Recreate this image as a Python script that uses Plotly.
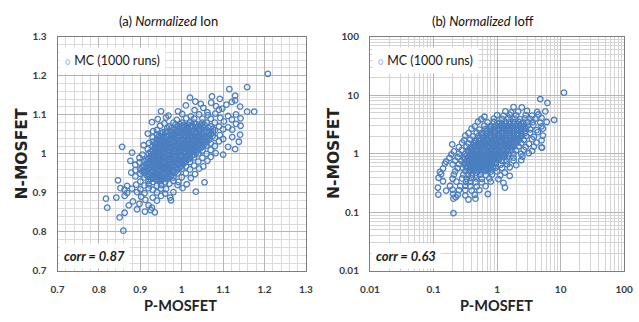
import plotly.graph_objects as go

# ---------------- data ----------------
# Panel (a): normalized Ion, P-MOSFET (x) vs N-MOSFET (y)
ion_p = [
    1.208, 1.115, 1.158, 1.129, 1.073, 1.020, 1.033, 1.092, 1.129,
    1.046, 1.071, 1.108, 1.121,
    1.010, 1.052, 1.083, 1.098, 1.141,
    0.950, 0.991, 1.031, 1.062, 1.090, 1.158, 1.175,
    0.968, 1.001, 1.022, 1.042, 1.063, 1.081, 1.112, 1.131,
    0.942, 0.962, 0.988, 1.011, 1.030, 1.050, 1.070, 1.093, 1.121, 1.142,
    0.928, 0.958, 0.980, 1.000, 1.020, 1.030, 1.050, 1.060, 1.080, 1.102, 1.131,
    0.948, 0.970, 0.990, 1.000, 1.010, 1.020, 1.040, 1.050, 1.070, 1.090, 1.112, 1.142,
    0.931, 0.940, 0.960, 0.980, 0.990, 1.000, 1.010, 1.030, 1.040, 1.060, 1.080, 1.100, 1.122,
    0.918, 0.940, 0.950, 0.970, 0.980, 0.990, 1.000, 1.010, 1.020, 1.030, 1.040, 1.050, 1.070, 1.092, 1.141,
    0.930, 0.940, 0.950, 0.960, 0.970, 0.980, 0.990, 1.000, 1.010, 1.020, 1.030, 1.040, 1.050, 1.060, 1.080, 1.100, 1.122,
    0.921, 0.930, 0.940, 0.950, 0.960, 0.970, 0.980, 0.990, 1.000, 1.010, 1.020, 1.030, 1.040, 1.050, 1.060, 1.070, 1.090, 1.138,
    0.856, 0.908, 0.930, 0.940, 0.950, 0.960, 0.970, 0.980, 0.990, 1.000, 1.010, 1.020, 1.030, 1.040, 1.050, 1.060, 1.080, 1.112,
    0.918, 0.930, 0.940, 0.950, 0.960, 0.970, 0.980, 0.990, 1.000, 1.010, 1.020, 1.030, 1.040, 1.050, 1.070, 1.129,
    0.880, 0.905, 0.920, 0.930, 0.940, 0.950, 0.960, 0.970, 0.980, 0.990, 1.000, 1.010, 1.020, 1.030, 1.040, 1.060, 1.082, 1.100,
    0.898, 0.920, 0.930, 0.940, 0.950, 0.960, 0.970, 0.980, 0.990, 1.000, 1.010, 1.020, 1.030, 1.050, 1.070,
    0.876, 0.898, 0.910, 0.920, 0.930, 0.940, 0.950, 0.960, 0.970, 0.980, 0.990, 1.000, 1.010, 1.020, 1.040, 1.062,
    0.888, 0.910, 0.920, 0.930, 0.940, 0.950, 0.960, 0.970, 0.980, 0.990, 1.000, 1.010, 1.030, 1.052,
    0.888, 0.900, 0.910, 0.920, 0.930, 0.940, 0.950, 0.960, 0.970, 0.980, 0.990, 1.000, 1.020, 1.042,
    0.878, 0.900, 0.910, 0.920, 0.930, 0.940, 0.950, 0.960, 0.970, 0.980, 0.990, 1.010, 1.032,
    0.888, 0.910, 0.920, 0.930, 0.940, 0.950, 0.960, 0.970, 0.980, 1.000, 1.022,
    0.846, 0.900, 0.920, 0.930, 0.940, 0.950, 0.960, 0.980, 0.992, 1.055,
    0.868, 0.890, 0.910, 0.920, 0.940, 0.950, 0.970, 0.990, 1.012,
    0.852, 0.862, 0.880, 0.900, 0.920, 0.930, 0.950, 0.962, 1.002,
    0.868, 0.892, 0.910, 0.940, 0.960, 0.980, 1.034,
    0.842, 0.862, 0.902, 0.930, 0.950, 0.972, 0.817,
    0.882, 0.912, 0.940, 0.974,
    0.872, 0.898, 0.920,
    0.820, 0.892, 0.928,
    0.862, 0.911, 0.925, 0.935, 0.850, 0.859,
    # dense core
    0.985, 0.995, 1.005, 1.015, 1.025, 1.035, 1.045, 1.055,
    0.965, 0.975, 0.985, 0.995, 1.005, 1.015, 1.025, 1.035, 1.045, 1.055, 1.065, 1.075,
    0.955, 0.965, 0.975, 0.985, 0.995, 1.005, 1.015, 1.025, 1.035, 1.045, 1.055, 1.065, 1.075,
    0.945, 0.955, 0.965, 0.975, 0.985, 0.995, 1.005, 1.015, 1.025, 1.035, 1.045, 1.055, 1.065, 1.075,
    0.945, 0.955, 0.965, 0.975, 0.985, 0.995, 1.005, 1.015, 1.025, 1.035, 1.045, 1.055, 1.065,
    0.935, 0.945, 0.955, 0.965, 0.975, 0.985, 0.995, 1.005, 1.015, 1.025, 1.035, 1.045, 1.055,
    0.935, 0.945, 0.955, 0.965, 0.975, 0.985, 0.995, 1.005, 1.015, 1.025, 1.035, 1.045,
    0.925, 0.935, 0.945, 0.955, 0.965, 0.975, 0.985, 0.995, 1.005, 1.015, 1.025, 1.035,
    0.925, 0.935, 0.945, 0.955, 0.965, 0.975, 0.985, 0.995, 1.005, 1.015, 1.025,
    0.915, 0.925, 0.935, 0.945, 0.955, 0.965, 0.975, 0.985, 0.995, 1.005, 1.015,
    0.915, 0.925, 0.935, 0.945, 0.955, 0.965, 0.975, 0.985, 0.995, 1.005,
    0.905, 0.915, 0.925, 0.935, 0.945, 0.955, 0.965, 0.975, 0.985, 0.995,
    0.905, 0.915, 0.925, 0.935, 0.945, 0.955, 0.965, 0.975, 0.985,
    0.915, 0.925, 0.935, 0.945, 0.955, 0.965, 0.975,
    0.925, 0.935, 0.945, 0.955, 0.965,
]
ion_n = [
    1.205, 1.166, 1.171, 1.149, 1.147, 1.144, 1.134, 1.141, 1.137,
    1.128, 1.131, 1.126, 1.133,
    1.124, 1.118, 1.122, 1.116, 1.121,
    1.109, 1.109, 1.112, 1.106, 1.113, 1.108, 1.108,
    1.098, 1.102, 1.096, 1.101, 1.099, 1.103, 1.097, 1.101,
    1.089, 1.093, 1.087, 1.091, 1.090, 1.090, 1.090, 1.092, 1.088, 1.091,
    1.081, 1.078, 1.080, 1.080, 1.080, 1.080, 1.080, 1.080, 1.080, 1.083, 1.077,
    1.072, 1.070, 1.070, 1.070, 1.070, 1.070, 1.070, 1.070, 1.070, 1.070, 1.068, 1.072,
    1.058, 1.061, 1.057, 1.063, 1.059, 1.060, 1.062, 1.058, 1.061, 1.057, 1.060, 1.063, 1.062,
    1.052, 1.050, 1.053, 1.048, 1.051, 1.047, 1.050, 1.053, 1.049, 1.052, 1.048, 1.051, 1.050, 1.048, 1.049,
    1.042, 1.039, 1.043, 1.040, 1.037, 1.042, 1.040, 1.038, 1.043, 1.041, 1.037, 1.040, 1.042, 1.039, 1.041, 1.038, 1.043,
    1.028, 1.031, 1.029, 1.032, 1.030, 1.027, 1.031, 1.029, 1.033, 1.030, 1.028, 1.031, 1.029, 1.032, 1.030, 1.027, 1.032, 1.031,
    1.018, 1.022, 1.020, 1.023, 1.019, 1.021, 1.018, 1.022, 1.020, 1.017, 1.021, 1.019, 1.022, 1.020, 1.018, 1.021, 1.020, 1.018,
    1.012, 1.009, 1.011, 1.008, 1.012, 1.010, 1.007, 1.011, 1.009, 1.012, 1.010, 1.008, 1.011, 1.009, 1.010, 1.012,
    1.003, 0.998, 1.001, 0.999, 1.002, 0.998, 1.000, 1.003, 0.999, 1.001, 0.997, 1.002, 1.000, 0.998, 1.001, 1.000, 1.002, 0.998,
    0.990, 0.988, 0.991, 0.989, 0.992, 0.990, 0.987, 0.991, 0.989, 0.992, 0.990, 0.988, 0.991, 0.990, 0.992,
    0.982, 0.978, 0.981, 0.979, 0.982, 0.980, 0.977, 0.981, 0.979, 0.982, 0.980, 0.978, 0.981, 0.979, 0.980, 0.982,
    0.972, 0.969, 0.971, 0.968, 0.972, 0.970, 0.967, 0.971, 0.969, 0.972, 0.970, 0.968, 0.970, 0.968,
    0.958, 0.961, 0.959, 0.962, 0.958, 0.960, 0.963, 0.959, 0.961, 0.958, 0.960, 0.962, 0.960, 0.962,
    0.952, 0.949, 0.951, 0.948, 0.952, 0.950, 0.947, 0.951, 0.949, 0.952, 0.950, 0.950, 0.948,
    0.942, 0.939, 0.941, 0.938, 0.942, 0.940, 0.937, 0.941, 0.939, 0.940, 0.938,
    0.932, 0.929, 0.931, 0.928, 0.932, 0.930, 0.927, 0.931, 0.928, 0.927,
    0.918, 0.921, 0.919, 0.922, 0.918, 0.920, 0.923, 0.920, 0.922,
    0.912, 0.908, 0.911, 0.909, 0.912, 0.908, 0.911, 0.910, 0.912,
    0.900, 0.902, 0.899, 0.901, 0.898, 0.902, 0.903,
    0.888, 0.892, 0.890, 0.888, 0.892, 0.888, 0.885,
    0.878, 0.882, 0.880, 0.881,
    0.868, 0.872, 0.868,
    0.862, 0.858, 0.862,
    0.849, 0.852, 0.856, 0.850, 0.837, 0.803,
    # dense core
    1.075, 1.076, 1.074, 1.075, 1.073, 1.076, 1.075, 1.074,
    1.065, 1.066, 1.064, 1.065, 1.067, 1.063, 1.065, 1.066, 1.064, 1.065, 1.066, 1.064,
    1.055, 1.056, 1.054, 1.055, 1.057, 1.053, 1.055, 1.056, 1.054, 1.055, 1.056, 1.054, 1.055,
    1.045, 1.046, 1.044, 1.045, 1.047, 1.043, 1.045, 1.046, 1.044, 1.045, 1.046, 1.044, 1.045, 1.046,
    1.035, 1.036, 1.034, 1.035, 1.037, 1.033, 1.035, 1.036, 1.034, 1.035, 1.036, 1.034, 1.035,
    1.025, 1.026, 1.024, 1.025, 1.027, 1.023, 1.025, 1.026, 1.024, 1.025, 1.026, 1.024, 1.025,
    1.015, 1.016, 1.014, 1.015, 1.017, 1.013, 1.015, 1.016, 1.014, 1.015, 1.016, 1.014,
    1.005, 1.006, 1.004, 1.005, 1.007, 1.003, 1.005, 1.006, 1.004, 1.005, 1.006, 1.004,
    0.995, 0.996, 0.994, 0.995, 0.997, 0.993, 0.995, 0.996, 0.994, 0.995, 0.996,
    0.985, 0.986, 0.984, 0.985, 0.987, 0.983, 0.985, 0.986, 0.984, 0.985, 0.986,
    0.975, 0.976, 0.974, 0.975, 0.977, 0.973, 0.975, 0.976, 0.974, 0.975,
    0.965, 0.966, 0.964, 0.965, 0.967, 0.963, 0.965, 0.966, 0.964, 0.965,
    0.955, 0.956, 0.954, 0.955, 0.957, 0.953, 0.955, 0.956, 0.954,
    0.945, 0.946, 0.944, 0.945, 0.947, 0.943, 0.945,
    0.935, 0.936, 0.934, 0.935, 0.937,
]

# Panel (b): normalized Ioff, P-MOSFET (x) vs N-MOSFET (y)
ioff_p = [
    11.3, 4.79, 6.2, 7.9, 5.1, 1.82, 2.45,
    1.35, 1.66, 2.14, 2.95, 4.27, 5.75,
    0.631, 1.0, 1.26, 1.58, 2.0, 2.82, 3.55, 4.47,
    0.562, 0.891, 1.20, 1.51, 1.91, 2.29, 2.75, 3.31, 3.98, 5.01,
    0.501, 0.708, 0.891, 1.12, 1.32, 1.58, 1.86, 2.19, 2.57, 3.02, 3.63, 4.79, 6.03,
    0.447, 0.631, 0.794, 0.955, 1.12, 1.29, 1.48, 1.70, 1.95, 2.24, 2.57, 3.02, 3.72, 5.01,
    0.398, 0.525, 0.661, 0.794, 0.912, 1.05, 1.20, 1.38, 1.58, 1.82, 2.09, 2.40, 2.82, 3.31, 4.17, 5.25,
    0.355, 0.479, 0.575, 0.692, 0.794, 0.912, 1.05, 1.20, 1.38, 1.58, 1.82, 2.09, 2.40, 2.75, 3.31, 4.37,
    0.316, 0.417, 0.501, 0.603, 0.692, 0.794, 0.912, 1.05, 1.20, 1.38, 1.58, 1.82, 2.09, 2.40, 2.88, 3.80, 5.25,
    0.302, 0.380, 0.457, 0.550, 0.631, 0.724, 0.832, 0.955, 1.10, 1.26, 1.45, 1.66, 1.91, 2.19, 2.63, 3.55, 5.01,
    0.197, 0.282, 0.355, 0.427, 0.501, 0.575, 0.661, 0.759, 0.871, 1.0, 1.15, 1.32, 1.51, 1.74, 2.0, 2.40, 3.16, 4.17,
    0.251, 0.331, 0.398, 0.457, 0.525, 0.603, 0.692, 0.794, 0.912, 1.05, 1.20, 1.38, 1.58, 1.82, 2.19, 2.82, 3.80, 5.01,
    0.209, 0.275, 0.347, 0.417, 0.479, 0.550, 0.631, 0.724, 0.832, 0.955, 1.10, 1.26, 1.45, 1.66, 2.0, 2.63, 3.55,
    0.191, 0.251, 0.316, 0.380, 0.437, 0.501, 0.575, 0.661, 0.759, 0.871, 1.0, 1.15, 1.32, 1.51, 1.82, 2.40, 3.16,
    0.178, 0.240, 0.302, 0.355, 0.407, 0.468, 0.537, 0.617, 0.708, 0.813, 0.933, 1.07, 1.23, 1.45, 1.82, 2.51,
    0.158, 0.219, 0.275, 0.331, 0.380, 0.437, 0.501, 0.575, 0.661, 0.759, 0.871, 1.0, 1.18, 1.41, 1.82, 2.40,
    0.151, 0.200, 0.251, 0.302, 0.355, 0.407, 0.468, 0.537, 0.617, 0.708, 0.813, 0.955, 1.15, 1.45, 2.0,
    0.141, 0.240, 0.288, 0.339, 0.389, 0.447, 0.513, 0.589, 0.676, 0.794, 0.955, 1.20, 1.58,
    0.126, 0.219, 0.316, 0.372, 0.427, 0.490, 0.562, 0.661, 0.794, 1.0, 1.32,
    0.132, 0.209, 0.295, 0.347, 0.398, 0.468, 0.550, 0.661, 0.832, 1.12, 1.58,
    0.120, 0.200, 0.282, 0.331, 0.389, 0.468, 0.575, 0.759, 1.05,
    0.141, 0.229, 0.324, 0.380, 0.457, 0.575, 0.794, 1.26,
    0.117, 0.182, 0.263, 0.316, 0.380, 0.479, 0.661, 1.33,
    0.158, 0.200, 0.251, 0.316, 0.398, 0.525,
    0.119, 0.204, 0.240, 0.316, 0.447, 0.716,
    0.206, 0.224, 0.355, 0.458, 0.206,
    # dense core
    1.05, 1.20, 1.38, 1.58, 1.82, 2.09, 2.40,
    0.794, 0.912, 1.05, 1.20, 1.38, 1.58, 1.82, 2.09, 2.40, 2.75,
    0.692, 0.794, 0.912, 1.05, 1.20, 1.38, 1.58, 1.82, 2.09, 2.40, 2.75,
    0.603, 0.692, 0.794, 0.912, 1.05, 1.20, 1.38, 1.58, 1.82, 2.09, 2.40,
    0.525, 0.603, 0.692, 0.794, 0.912, 1.05, 1.20, 1.38, 1.58, 1.82, 2.09, 2.29,
    0.457, 0.525, 0.603, 0.692, 0.794, 0.912, 1.05, 1.20, 1.38, 1.58, 1.82, 2.0,
    0.427, 0.490, 0.562, 0.646, 0.741, 0.851, 0.977, 1.12, 1.29, 1.48, 1.70,
    0.372, 0.427, 0.490, 0.562, 0.646, 0.741, 0.851, 0.977, 1.12, 1.29, 1.48, 1.70,
    0.355, 0.407, 0.468, 0.537, 0.617, 0.708, 0.813, 0.933, 1.07, 1.23, 1.41,
    0.331, 0.380, 0.437, 0.501, 0.575, 0.661, 0.759, 0.871, 1.0, 1.15, 1.32,
    0.309, 0.355, 0.407, 0.468, 0.537, 0.617, 0.708, 0.813, 0.933, 1.07,
    0.309, 0.355, 0.407, 0.468, 0.537, 0.617, 0.708, 0.813, 0.933,
    0.331, 0.380, 0.437, 0.501, 0.575, 0.661, 0.759, 0.871,
    0.363, 0.417, 0.479, 0.550, 0.631, 0.724,
]
ioff_n = [
    11.1, 8.6, 7.4, 3.8, 1.28, 6.3, 6.2,
    5.3, 5.1, 5.25, 5.4, 5.2, 5.3,
    4.3, 4.6, 4.5, 4.65, 4.55, 4.6, 4.5, 4.7,
    3.9, 4.0, 3.95, 4.05, 3.98, 3.92, 4.02, 3.96, 4.0, 4.1,
    3.55, 3.45, 3.5, 3.42, 3.48, 3.52, 3.46, 3.5, 3.44, 3.49, 3.47, 3.4, 3.5,
    2.95, 3.03, 2.99, 3.05, 3.0, 3.04, 2.98, 3.02, 3.06, 3.0, 2.97, 3.03, 3.1, 2.95,
    2.7, 2.6, 2.65, 2.62, 2.66, 2.61, 2.64, 2.67, 2.62, 2.65, 2.6, 2.64, 2.66, 2.62, 2.55, 2.7,
    2.25, 2.3, 2.27, 2.31, 2.28, 2.3, 2.26, 2.29, 2.32, 2.28, 2.3, 2.27, 2.31, 2.29, 2.28, 2.35,
    2.05, 1.98, 2.01, 1.97, 2.0, 2.02, 1.98, 2.01, 1.99, 2.03, 1.98, 2.0, 2.02, 1.99, 2.01, 1.95, 2.05,
    1.7, 1.75, 1.72, 1.76, 1.73, 1.74, 1.71, 1.75, 1.73, 1.76, 1.72, 1.74, 1.75, 1.72, 1.74, 1.78, 1.7,
    1.45, 1.55, 1.5, 1.53, 1.49, 1.52, 1.5, 1.54, 1.51, 1.49, 1.52, 1.5, 1.53, 1.49, 1.51, 1.52, 1.48, 1.55,
    1.3, 1.33, 1.31, 1.34, 1.32, 1.3, 1.33, 1.31, 1.34, 1.32, 1.3, 1.33, 1.31, 1.32, 1.34, 1.3, 1.33, 1.28,
    1.1, 1.16, 1.14, 1.17, 1.15, 1.13, 1.16, 1.14, 1.15, 1.17, 1.13, 1.15, 1.16, 1.14, 1.15, 1.17, 1.12,
    0.98, 1.01, 0.99, 1.02, 1.0, 0.98, 1.01, 0.99, 1.02, 1.0, 0.99, 1.01, 1.0, 0.98, 1.01, 1.0, 1.03,
    0.85, 0.88, 0.86, 0.875, 0.87, 0.865, 0.88, 0.87, 0.86, 0.875, 0.87, 0.865, 0.88, 0.87, 0.86, 0.9,
    0.74, 0.765, 0.75, 0.76, 0.77, 0.755, 0.76, 0.75, 0.765, 0.76, 0.755, 0.77, 0.76, 0.75, 0.765, 0.78,
    0.68, 0.66, 0.665, 0.655, 0.67, 0.66, 0.665, 0.655, 0.66, 0.67, 0.66, 0.665, 0.655, 0.66, 0.64,
    0.56, 0.57, 0.575, 0.58, 0.57, 0.575, 0.565, 0.58, 0.575, 0.57, 0.58, 0.575, 0.59,
    0.49, 0.5, 0.505, 0.5, 0.51, 0.495, 0.5, 0.505, 0.495, 0.5, 0.48,
    0.45, 0.44, 0.44, 0.435, 0.44, 0.43, 0.44, 0.435, 0.44, 0.43, 0.42,
    0.39, 0.375, 0.38, 0.375, 0.385, 0.38, 0.375, 0.38, 0.37,
    0.34, 0.335, 0.33, 0.335, 0.33, 0.325, 0.335, 0.32,
    0.265, 0.285, 0.28, 0.285, 0.28, 0.275, 0.28, 0.265,
    0.235, 0.245, 0.24, 0.24, 0.235, 0.24,
    0.201, 0.205, 0.2, 0.195, 0.2, 0.206,
    0.171, 0.182, 0.166, 0.171, 0.097,
    # dense core
    3.24, 3.2, 3.27, 3.22, 3.25, 3.21, 3.26,
    2.82, 2.85, 2.8, 2.84, 2.81, 2.83, 2.86, 2.8, 2.83, 2.82,
    2.45, 2.47, 2.43, 2.46, 2.44, 2.48, 2.45, 2.43, 2.47, 2.45, 2.44,
    2.14, 2.16, 2.12, 2.15, 2.13, 2.17, 2.14, 2.12, 2.16, 2.14, 2.13,
    1.86, 1.88, 1.85, 1.87, 1.84, 1.88, 1.86, 1.85, 1.87, 1.86, 1.84, 1.88,
    1.62, 1.64, 1.61, 1.63, 1.6, 1.64, 1.62, 1.61, 1.63, 1.62, 1.6, 1.64,
    1.41, 1.43, 1.4, 1.42, 1.39, 1.43, 1.41, 1.4, 1.42, 1.41, 1.4,
    1.23, 1.25, 1.22, 1.24, 1.21, 1.25, 1.23, 1.22, 1.24, 1.23, 1.22, 1.25,
    1.07, 1.08, 1.06, 1.075, 1.065, 1.08, 1.07, 1.06, 1.075, 1.07, 1.065,
    0.933, 0.945, 0.925, 0.94, 0.93, 0.945, 0.935, 0.925, 0.94, 0.933, 0.93,
    0.813, 0.82, 0.805, 0.815, 0.81, 0.82, 0.813, 0.805, 0.815, 0.81,
    0.708, 0.715, 0.7, 0.71, 0.705, 0.715, 0.708, 0.7, 0.71,
    0.617, 0.625, 0.61, 0.62, 0.615, 0.625, 0.617, 0.61,
    0.537, 0.545, 0.53, 0.54, 0.535, 0.545,
]

ion_ticks = [0.7, 0.8, 0.9, 1.0, 1.1, 1.2, 1.3]
ion_ticklabels = ["0.7", "0.8", "0.9", "1", "1.1", "1.2", "1.3"]
ioff_ticks = [0.01, 0.1, 1, 10, 100]
ioff_ticklabels = ["0.01", "0.1", "1", "10", "100"]
panel_titles = ["(a) <i>Normalized</i> Ion", "(b) <i>Normalized</i> Ioff"]
corr_labels = ["corr = 0.87", "corr = 0.63"]
legend_label = "MC (1000 runs)"
x_title = "P-MOSFET"
y_title = "N-MOSFET"

# ---------------- figure ----------------
W, H = 639, 322
BLUE = "#4a7ebf"

def px(x):
    return x / W

def py(y):
    return 1 - y / H

fig = go.Figure()
marker = dict(symbol="circle-open", size=5.5, color=BLUE, line=dict(width=1.3, color=BLUE))
fig.add_trace(go.Scatter(x=ion_p, y=ion_n, mode="markers", marker=marker,
                         xaxis="x", yaxis="y", showlegend=False))
fig.add_trace(go.Scatter(x=ioff_p, y=ioff_n, mode="markers", marker=marker,
                         xaxis="x2", yaxis="y2", showlegend=False))

tickfont = dict(family="Lato", size=10, color="#3a3a3a", weight="bold")
common = dict(showline=True, mirror=True, linecolor="#7f7f7f", linewidth=1,
              zeroline=False, ticks="", tickfont=tickfont, showgrid=True)

A_L, A_R, TOP, BOT = 49, 305, 31, 275
B_L, B_R = 371, 633

fig.update_layout(
    width=W, height=H, margin=dict(l=0, r=0, t=0, b=0),
    paper_bgcolor="white", plot_bgcolor="white",
    xaxis=dict(domain=[px(A_L), px(A_R)], range=[0.7, 1.3], tickvals=ion_ticks,
               ticktext=ion_ticklabels, gridcolor="#b4b4b4", gridwidth=1,
               ticklabelstandoff=9,
               minor=dict(dtick=0.02, tick0=0.7, showgrid=True, gridcolor="#dadada", gridwidth=1),
               anchor="y", **common),
    yaxis=dict(domain=[py(BOT), py(TOP)], range=[0.7, 1.3], tickvals=ion_ticks,
               ticktext=ion_ticklabels, gridcolor="#b4b4b4", gridwidth=1,
               ticklabelstandoff=8,
               minor=dict(dtick=0.02, tick0=0.7, showgrid=True, gridcolor="#dadada", gridwidth=1),
               anchor="x", **common),
    xaxis2=dict(domain=[px(B_L), px(B_R)], type="log", range=[-2, 2], tickvals=ioff_ticks,
                ticktext=ioff_ticklabels, gridcolor="#b4b4b4", gridwidth=1,
                ticklabelstandoff=9,
                minor=dict(dtick="D1", showgrid=True, gridcolor="#d4d4d4", gridwidth=1),
                anchor="y2", **common),
    yaxis2=dict(domain=[py(BOT), py(TOP)], type="log", range=[-2, 2], tickvals=ioff_ticks,
                ticktext=ioff_ticklabels, gridcolor="#b4b4b4", gridwidth=1,
                ticklabelstandoff=8,
                minor=dict(dtick="D1", showgrid=True, gridcolor="#d4d4d4", gridwidth=1),
                anchor="x2", **common),
)

ann = []
for i, (L, R) in enumerate([(A_L, A_R), (B_L, B_R)]):
    cx = (L + R) / 2
    ann.append(dict(x=px(cx - 14), y=py(15), xref="paper", yref="paper", text=panel_titles[i],
                    showarrow=False, font=dict(family="Lato", size=13, color="#111"),
                    xanchor="center", yanchor="middle"))
    ann.append(dict(x=px(cx - 1), y=py(311), xref="paper", yref="paper", text=x_title,
                    showarrow=False, font=dict(family="Lato", size=14.5, color="#222", weight="bold"),
                    xanchor="center", yanchor="middle"))
    ann.append(dict(x=px(L - 37), y=py((TOP + BOT) / 2), xref="paper", yref="paper", text=y_title,
                    showarrow=False, textangle=-90,
                    font=dict(family="DejaVu Sans", size=15.5, color="#222", weight="bold"),
                    xanchor="center", yanchor="middle"))
    ann.append(dict(x=px(L + 2), y=py(56), xref="paper", yref="paper",
                    text="<span style='color:#86aadb;font-size:9px'>○</span> " + legend_label,
                    showarrow=False, align="left",
                    font=dict(family="Lato", size=12.5, color="#1a1a1a"),
                    bgcolor="white", borderpad=5, xanchor="left", yanchor="middle"))
    ann.append(dict(x=px(L + 1), y=py(259), xref="paper", yref="paper",
                    text="<b><i>" + corr_labels[i] + "</i></b>", showarrow=False,
                    font=dict(family="Lato", size=13, color="#1a1a1a"),
                    bgcolor="white", borderpad=4, xanchor="left", yanchor="middle"))

fig.update_layout(annotations=ann)
fig.write_html("out.html")
